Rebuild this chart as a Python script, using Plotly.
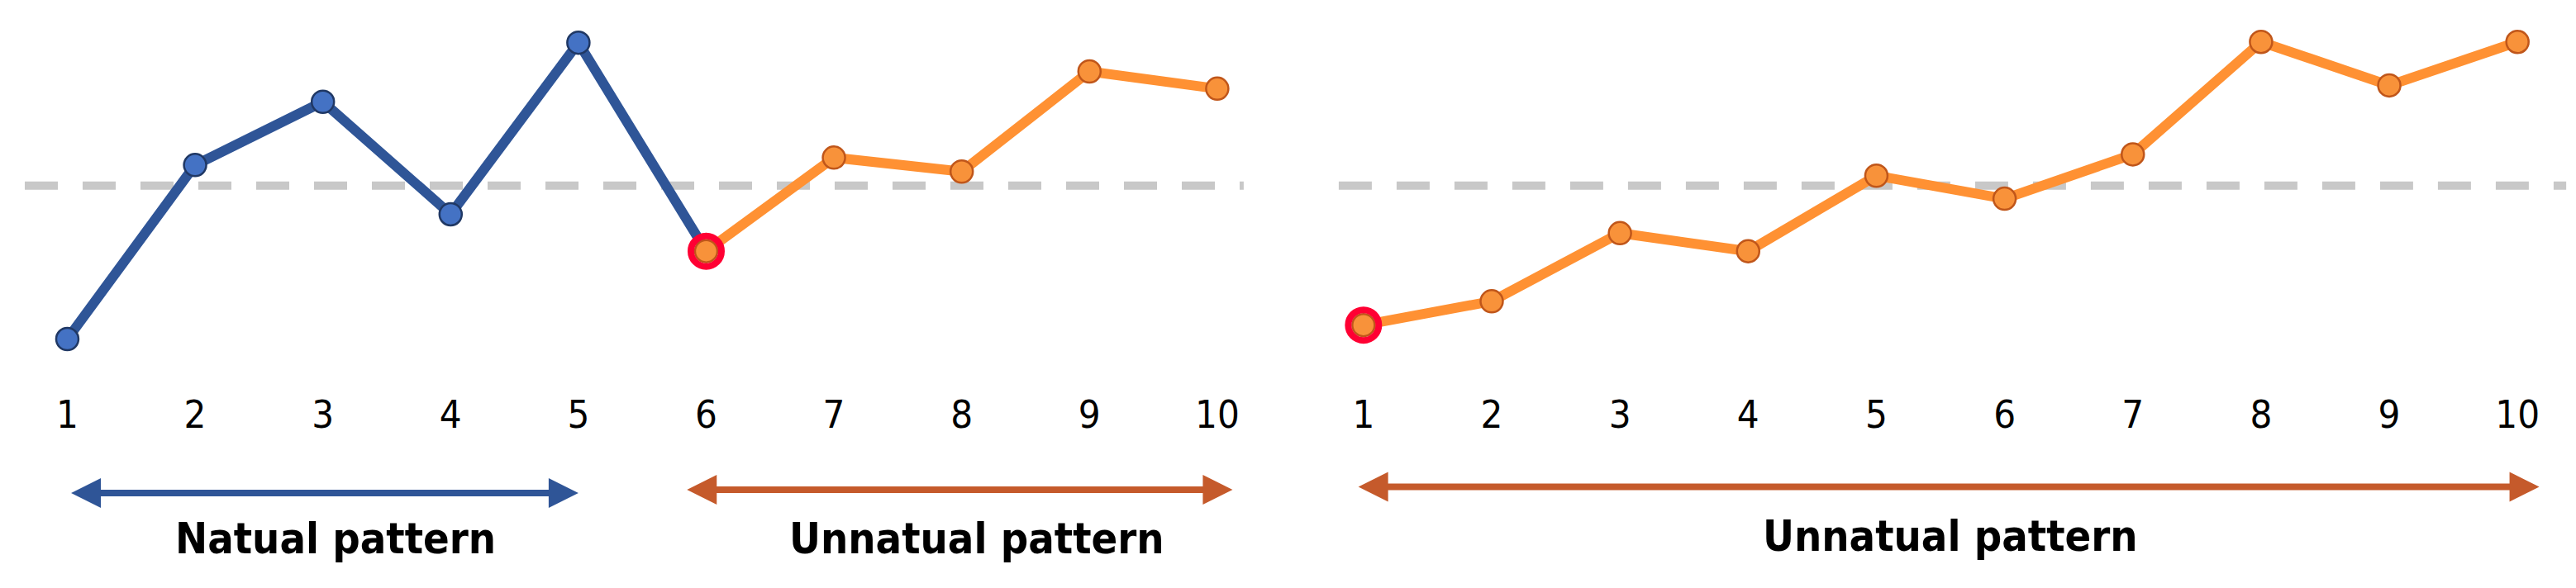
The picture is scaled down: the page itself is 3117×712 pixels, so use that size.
"""Two run charts: natural vs unnatural pattern around a centre line."""

import plotly.graph_objects as go

# ── Data ──────────────────────────────────────────────────────────────────────
positions = list(range(1, 11))
tick_labels = [str(p) for p in positions]

# left chart: points 1-6 are the natural run, 6-10 the unnatural run
left_values = [-9.35, 1.25, 5.1, -1.75, 8.7, -4.0, 1.7, 0.85, 6.95, 5.9]
# right chart: the whole run is unnatural
right_values = [-8.5, -7.05, -2.9, -4.0, 0.6, -0.8, 1.9, 8.75, 6.1, 8.75]

centre_line = 0.0
label_natural = "Natual pattern"
label_unnatural = "Unnatual pattern"

# ── Styles ────────────────────────────────────────────────────────────────────
BLUE_LINE = "#2F5597"
BLUE_FILL = "#4472C4"
BLUE_EDGE = "#203864"
ORANGE_LINE = "#FF9133"
ORANGE_FILL = "#F8923A"
ORANGE_EDGE = "#C0561A"
ARROW_ORANGE = "#C55A2B"
RING = "#FF0033"
DASH = "#C8C8C8"
FONT = "Liberation Sans Narrow, DejaVu Sans Condensed, Roboto, sans-serif"

LINE_W = 12
MARK = 27

fig = go.Figure()


def marker(fill, edge):
    return dict(size=MARK, color=fill, line=dict(color=edge, width=2.5))


# ── Left chart ────────────────────────────────────────────────────────────────
fig.add_trace(go.Scatter(
    x=positions[:6], y=left_values[:6], mode="lines",
    line=dict(color=BLUE_LINE, width=LINE_W), xaxis="x", yaxis="y",
))
fig.add_trace(go.Scatter(
    x=positions[:5], y=left_values[:5], mode="markers",
    marker=marker(BLUE_FILL, BLUE_EDGE), xaxis="x", yaxis="y",
))
fig.add_trace(go.Scatter(
    x=positions[5:], y=left_values[5:], mode="lines+markers",
    line=dict(color=ORANGE_LINE, width=LINE_W),
    marker=marker(ORANGE_FILL, ORANGE_EDGE), xaxis="x", yaxis="y",
))
fig.add_trace(go.Scatter(
    x=[positions[5]], y=[left_values[5]], mode="markers",
    marker=dict(size=37, color="rgba(0,0,0,0)", line=dict(color=RING, width=8)),
    xaxis="x", yaxis="y",
))

# ── Right chart ───────────────────────────────────────────────────────────────
fig.add_trace(go.Scatter(
    x=positions, y=right_values, mode="lines+markers",
    line=dict(color=ORANGE_LINE, width=LINE_W),
    marker=marker(ORANGE_FILL, ORANGE_EDGE), xaxis="x2", yaxis="y",
))
fig.add_trace(go.Scatter(
    x=[positions[0]], y=[right_values[0]], mode="markers",
    marker=dict(size=37, color="rgba(0,0,0,0)", line=dict(color=RING, width=8)),
    xaxis="x2", yaxis="y",
))

# centre lines
for xr in ("x domain", "x2 domain"):
    fig.add_shape(
        type="line", xref=xr, x0=0, x1=1, yref="y", y0=centre_line, y1=centre_line,
        line=dict(color=DASH, width=10, dash="40px,30px"), layer="below",
    )


# ── Span arrows + labels ──────────────────────────────────────────────────────
def span_arrow(xref, x0, x1, y, color):
    fig.add_annotation(
        xref=xref, yref="paper", x=x1, y=y, axref=xref, ax=x0, ayref="pixel", ay=0,
        text="", showarrow=True, arrowside="end+start", arrowhead=2,
        arrowsize=0.9, arrowwidth=8, arrowcolor=color, standoff=0, startstandoff=0,
    )


span_arrow("x", 1.02, 5.0, 0.1615, BLUE_LINE)
span_arrow("x", 5.84, 10.12, 0.167, ARROW_ORANGE)
span_arrow("x2", 0.95, 10.17, 0.172, ARROW_ORANGE)

for xref, xc, y, txt in [
    ("x", 3.1, 0.04, label_natural),
    ("x", 8.12, 0.04, label_unnatural),
    ("x2", 5.58, 0.043, label_unnatural),
]:
    fig.add_annotation(
        xref=xref, yref="paper", x=xc, y=y, text=f"<b>{txt}</b>", showarrow=False,
        font=dict(family=FONT, size=52, color="black"),
    )

# ── Layout ────────────────────────────────────────────────────────────────────
axis_common = dict(
    showgrid=False, zeroline=False, showline=False, ticks="",
    tickvals=positions, ticktext=tick_labels,
    tickfont=dict(family=FONT, size=47, color="black"),
    anchor="y", automargin=False,
)

fig.update_layout(
    template="none",
    width=3117, height=712,
    margin=dict(l=0, r=0, t=0, b=0, autoexpand=False),
    paper_bgcolor="white", plot_bgcolor="white",
    showlegend=False,
    xaxis=dict(domain=[0.00962, 0.4828], range=[0.667, 10.207], **axis_common),
    xaxis2=dict(domain=[0.5197, 0.9962], range=[0.807, 10.38], **axis_common),
    yaxis=dict(domain=[0.3399, 1], range=[-12.34, 11.3], visible=False, automargin=False),
)

# page body has a default margin; drop it so the figure sits at the window corner
fig.write_html(
    "out.html",
    config={"displayModeBar": False},
    post_script="document.body.style.margin='0';",
)
